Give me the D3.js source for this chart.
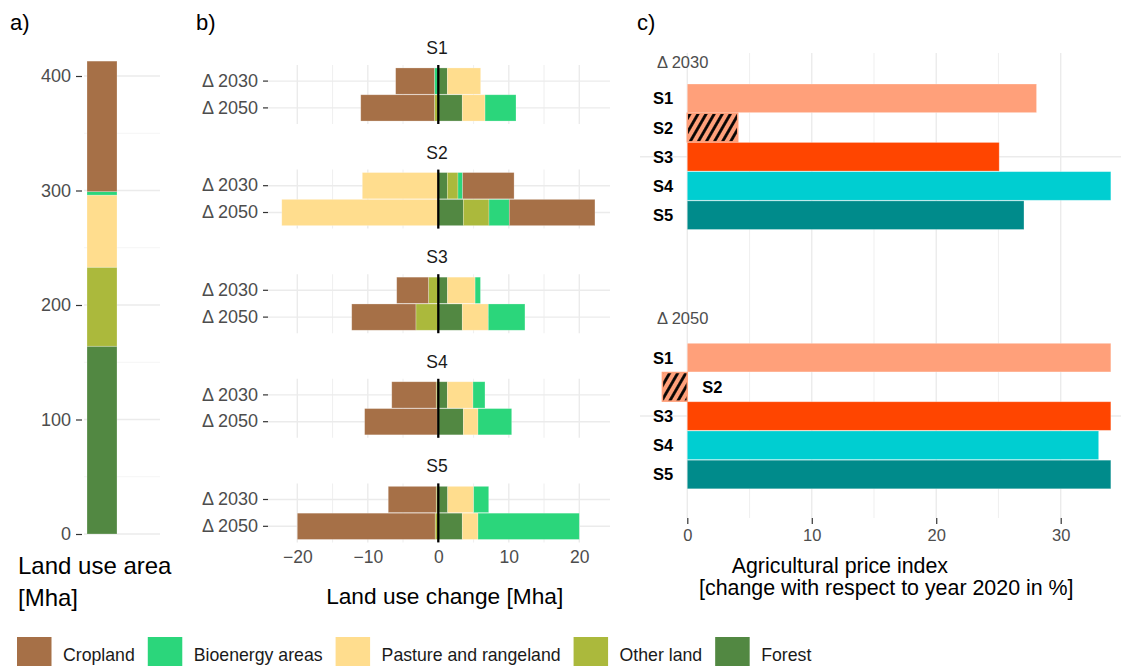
<!DOCTYPE html>
<html>
<head>
<meta charset="utf-8">
<script src="https://cdn.jsdelivr.net/npm/d3@7"></script>
<style>
  body { margin: 0; background: #fff; }
  svg { font-family: "Liberation Sans", Arial, sans-serif; display: block; }
  .tick text { fill: #4d4d4d; }
</style>
</head>
<body>
<script>
const W = 1121;
const H = 666;

// data
const scenarios = ["S1", "S2", "S3", "S4", "S5"];
const periods = ["Δ 2030", "Δ 2050"];
const landTypes = ["Cropland", "Bioenergy areas", "Pasture and rangeland", "Other land", "Forest"];
const landColors = ["#a67047", "#2bd67b", "#ffdd8e", "#abb93c", "#528842"];
const areaNow = [114, 3, 63, 69, 164]; // Mha, same order as landTypes

// land use change [Mha], S1..S5
const cropland2030 = [-5.5, 7.3, -4.5, -6.3, -6.8];
const cropland2050 = [-10.45, 12.15, -9.1, -10.3, -19.55];
const bioenergy2030 = [-0.55, 0.66, 0.76, 1.7, 2.13];
const bioenergy2050 = [4.39, 2.88, 5.2, 4.78, 14.37];
const pasture2030 = [4.73, -10.78, 3.92, 3.64, 3.69];
const pasture2050 = [3.23, -22.2, 3.69, 2.08, 2.23];
const other2030 = [0, 1.51, -1.4, -0.3, -0.3];
const other2050 = [-0.55, 3.64, -3.18, -0.15, -0.45];
const forest2030 = [1.28, 1.28, 1.3, 1.28, 1.33];
const forest2050 = [3.4, 3.55, 3.4, 3.55, 3.4];

// agricultural price index change [%], S1..S5
const price2030 = [28.06, 4.05, 25.06, 34.03, 27.05];
const price2050 = [34.03, -2.0, 34.03, 33.05, 34.03];
const priceColors = ["#ffa07a", "#ffa07a", "#ff4500", "#00ced1", "#008b8b"];
const hatched = ["S2"];

const xTicksB = [-20, -10, 0, 10, 20];
const xTicksC = [0, 10, 20, 30];
const yTicksA = [0, 100, 200, 300, 400];

const color = d3.scaleOrdinal().domain(landTypes).range(landColors);

const svg = d3.select("body").append("svg").attr("width", W).attr("height", H);

const defs = svg.append("defs");
const pat = defs.append("pattern")
  .attr("id", "hatch")
  .attr("patternUnits", "userSpaceOnUse")
  .attr("width", 7).attr("height", 7)
  .attr("patternTransform", "rotate(30)");
pat.append("rect").attr("width", 7).attr("height", 7).attr("fill", "#ffa07a");
pat.append("line").attr("x1", 3.5).attr("x2", 3.5).attr("y1", 0).attr("y2", 7)
  .attr("stroke", "#000").attr("stroke-width", 2.8);

// axis text helper: drop d3's default font so the svg one is used
const styleAxis = (ax, size) => {
  ax.attr("font-family", null).attr("font-size", null);
  ax.select(".domain").remove();
  ax.selectAll(".tick line").attr("stroke", "#333").attr("stroke-width", 1.2);
  ax.selectAll(".tick text").attr("font-size", size);
};

// panel tags
[["a)", 10], ["b)", 196], ["c)", 637]].forEach(([t, x]) => {
  svg.append("text").attr("x", x).attr("y", 30).attr("font-size", 22).attr("fill", "#000").text(t);
});

// ---------- a) land use area ----------
const yA = d3.scaleLinear().domain([0, 400]).range([534, 76]);
const xA = d3.scaleBand().domain(["total"]).range([87, 117]);
const gA = svg.append("g");

gA.selectAll("line.minor")
  .data([50, 150, 250, 350])
  .enter().append("line")
  .attr("x1", 84).attr("x2", 160)
  .attr("y1", (d) => yA(d)).attr("y2", (d) => yA(d))
  .attr("stroke", "#f3f3f3").attr("stroke-width", 0.8);
gA.selectAll("line.major")
  .data(yTicksA)
  .enter().append("line")
  .attr("x1", 84).attr("x2", 160)
  .attr("y1", (d) => yA(d)).attr("y2", (d) => yA(d))
  .attr("stroke", "#ebebeb").attr("stroke-width", 1.4);

const areaRow = { id: "total" };
landTypes.forEach((k, i) => (areaRow[k] = areaNow[i]));
const stackA = d3.stack().keys([...landTypes].reverse())([areaRow]);
gA.selectAll("rect.seg")
  .data(stackA)
  .enter().append("rect")
  .attr("x", xA("total"))
  .attr("width", xA.bandwidth())
  .attr("y", (s) => yA(s[0][1]))
  .attr("height", (s) => yA(s[0][0]) - yA(s[0][1]))
  .attr("fill", (s) => color(s.key))
  .attr("stroke", "rgba(255,255,255,0.35)").attr("stroke-width", 0.7);

const axA = gA.append("g").attr("transform", "translate(82,0)")
  .call(d3.axisLeft(yA).tickValues(yTicksA).tickSize(6).tickPadding(5));
styleAxis(axA, 18);

gA.append("text").attr("x", 18).attr("y", 574).attr("font-size", 24).text("Land use area");
gA.append("text").attr("x", 18).attr("y", 606).attr("font-size", 24).text("[Mha]");

// ---------- b) land use change ----------
const xB = d3.scaleLinear().domain([-20, 20]).range([297.3, 579.3]);
const panelB = [xB.invert(268), xB.invert(610)];
const facet = d3.scaleBand().domain(scenarios).range([65, 542.4]).paddingInner(0.436);

const changes = {
  "Δ 2030": { Cropland: cropland2030, "Bioenergy areas": bioenergy2030, "Pasture and rangeland": pasture2030, "Other land": other2030, Forest: forest2030 },
  "Δ 2050": { Cropland: cropland2050, "Bioenergy areas": bioenergy2050, "Pasture and rangeland": pasture2050, "Other land": other2050, Forest: forest2050 },
};

const stackB = d3.stack().keys([...landTypes].reverse()).offset(d3.stackOffsetDiverging);
const gB = svg.append("g");

scenarios.forEach((s, si) => {
  const top = facet(s);
  const bot = top + facet.bandwidth();
  const yB = d3.scaleBand().domain(periods).range([top, bot]).paddingInner(0.02).paddingOuter(0.11);
  const g = gB.append("g");

  // grid
  g.selectAll("line.vmin")
    .data([-15, -5, 5, 15])
    .enter().append("line")
    .attr("x1", (d) => xB(d)).attr("x2", (d) => xB(d))
    .attr("y1", top).attr("y2", bot)
    .attr("stroke", "#f0f0f0").attr("stroke-width", 1.1);
  g.selectAll("line.vmaj")
    .data(xTicksB)
    .enter().append("line")
    .attr("x1", (d) => xB(d)).attr("x2", (d) => xB(d))
    .attr("y1", top).attr("y2", bot)
    .attr("stroke", "#ebebeb").attr("stroke-width", 1.4);
  g.selectAll("line.h")
    .data(periods)
    .enter().append("line")
    .attr("x1", xB(panelB[0])).attr("x2", xB(panelB[1]))
    .attr("y1", (d) => yB(d) + yB.bandwidth() / 2).attr("y2", (d) => yB(d) + yB.bandwidth() / 2)
    .attr("stroke", "#ebebeb").attr("stroke-width", 1.4);

  const rows = periods.map((p) => {
    const r = { period: p };
    landTypes.forEach((k) => (r[k] = changes[p][k][si]));
    return r;
  });
  const series = stackB(rows);
  g.selectAll("g.series")
    .data(series)
    .enter().append("g")
    .attr("fill", (d) => color(d.key))
    .selectAll("rect")
    .data((d) => d.filter((v) => v[1] !== v[0]))
    .enter().append("rect")
    .attr("x", (d) => xB(Math.min(d[0], d[1])))
    .attr("width", (d) => Math.abs(xB(d[1]) - xB(d[0])))
    .attr("y", (d) => yB(d.data.period))
    .attr("height", yB.bandwidth())
    .attr("stroke", "rgba(255,255,255,0.35)").attr("stroke-width", 0.7);

  // zero line
  g.append("line")
    .attr("x1", xB(0)).attr("x2", xB(0))
    .attr("y1", top).attr("y2", bot)
    .attr("stroke", "#000").attr("stroke-width", 2.3);

  // strip
  g.append("text")
    .attr("x", (xB(panelB[0]) + xB(panelB[1])) / 2 - 2)
    .attr("y", top - 11)
    .attr("text-anchor", "middle")
    .attr("font-size", 17.5).attr("fill", "#1a1a1a")
    .text(s);

  const ay = g.append("g").attr("transform", `translate(${xB(panelB[0])},0)`)
    .call(d3.axisLeft(yB).tickSize(5).tickPadding(5));
  styleAxis(ay, 18);
});

const axB = gB.append("g").attr("transform", `translate(0,${facet("S5") + facet.bandwidth()})`)
  .call(d3.axisBottom(xB).tickValues(xTicksB).tickSize(0).tickPadding(8));
styleAxis(axB, 17.5);

gB.append("text").attr("x", 444.7).attr("y", 604).attr("text-anchor", "middle")
  .attr("font-size", 22.7).text("Land use change [Mha]");

// ---------- c) agricultural price index ----------
const xC = d3.scaleLinear().domain([0, 30]).range([687.3, 1060.7]);
const panelC = [640, 1121];
const priceTop = { "Δ 2030": 84, "Δ 2050": 343.3 };
const prices = { "Δ 2030": price2030, "Δ 2050": price2050 };
const gC = svg.append("g");

gC.selectAll("line.vmin")
  .data([5, 15, 25])
  .enter().append("line")
  .attr("x1", (d) => xC(d)).attr("x2", (d) => xC(d))
  .attr("y1", 53).attr("y2", 518)
  .attr("stroke", "#f0f0f0").attr("stroke-width", 1.1);
gC.selectAll("line.vmaj")
  .data(xTicksC)
  .enter().append("line")
  .attr("x1", (d) => xC(d)).attr("x2", (d) => xC(d))
  .attr("y1", 53).attr("y2", 518)
  .attr("stroke", "#ebebeb").attr("stroke-width", 1.4);

periods.forEach((p) => {
  const yC = d3.scaleBand().domain(scenarios).range([priceTop[p], priceTop[p] + 145.5]).paddingInner(0.02);
  const g = gC.append("g");
  const data = scenarios.map((s, i) => ({ s, v: prices[p][i], c: priceColors[i] }));

  g.append("line")
    .attr("x1", panelC[0]).attr("x2", panelC[1])
    .attr("y1", yC("S3") + yC.bandwidth() / 2).attr("y2", yC("S3") + yC.bandwidth() / 2)
    .attr("stroke", "#ebebeb").attr("stroke-width", 1.4);

  g.selectAll("rect")
    .data(data)
    .enter().append("rect")
    .attr("x", (d) => xC(Math.min(0, d.v)))
    .attr("width", (d) => Math.abs(xC(d.v) - xC(0)))
    .attr("y", (d) => yC(d.s))
    .attr("height", yC.bandwidth())
    .attr("fill", (d) => (hatched.includes(d.s) ? "url(#hatch)" : d.c))
    .attr("stroke", (d) => (hatched.includes(d.s) ? d.c : "rgba(255,255,255,0.35)"))
    .attr("stroke-width", (d) => (hatched.includes(d.s) ? 1.5 : 0.8));

  g.selectAll("text.lab")
    .data(data)
    .enter().append("text")
    .attr("x", (d) => (d.v < 0 ? xC(0) + 15 : xC(0) - 14))
    .attr("y", (d) => yC(d.s) + yC.bandwidth() / 2 + 6)
    .attr("text-anchor", (d) => (d.v < 0 ? "start" : "end"))
    .attr("font-size", 16.5).attr("font-weight", "bold").attr("fill", "#000")
    .text((d) => d.s);

  g.append("text")
    .attr("x", 657).attr("y", priceTop[p] - (p === "Δ 2030" ? 15.7 : 19.3))
    .attr("font-size", 16.5).attr("fill", "#4d4d4d")
    .text(p);
});

const axC = gC.append("g").attr("transform", "translate(0,518)")
  .call(d3.axisBottom(xC).tickValues(xTicksC).tickSize(6).tickPadding(5));
styleAxis(axC, 16.5);

gC.append("text").attr("x", 731.7).attr("y", 573).attr("font-size", 21.4).text("Agricultural price index");
gC.append("text").attr("x", 699).attr("y", 595).attr("font-size", 21.4).text("[change with respect to year 2020 in %]");

// ---------- legend ----------
const legend = svg.append("g");
let lx = 17;
landTypes.forEach((k) => {
  legend.append("rect").attr("x", lx).attr("y", 637).attr("width", 34.5).attr("height", 34)
    .attr("fill", color(k));
  const t = legend.append("text").attr("x", lx + 46).attr("y", 661)
    .attr("font-size", 17.7).attr("fill", "#1a1a1a").text(k);
  lx += 46 + t.node().getComputedTextLength() + 13;
});
</script>
</body>
</html>
